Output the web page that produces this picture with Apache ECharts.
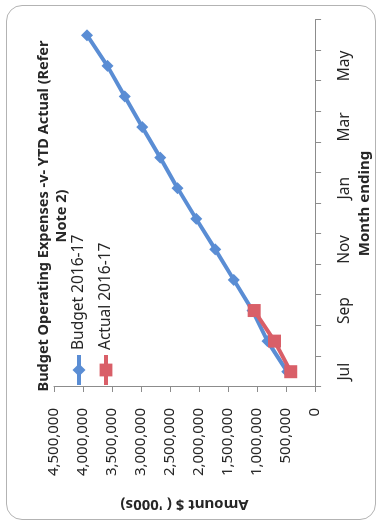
<!DOCTYPE html>
<html>
<head>
<meta charset="utf-8">
<script src="https://cdn.jsdelivr.net/npm/echarts@6/dist/echarts.min.js"></script>
<style>
  html, body { margin: 0; padding: 0; background: #fff; width: 377px; height: 529px; overflow: hidden; }
  #frame {
    position: absolute; left: 6px; top: 5px; width: 370px; height: 515px;
    border: 1px solid #b3b3b3; border-radius: 16px; box-sizing: border-box;
  }
  /* chart is laid out landscape and turned a quarter turn counter-clockwise */
  #chart {
    position: absolute; left: 0; top: 0; width: 529px; height: 377px;
    transform-origin: 0 0; transform: translate(0, 529px) rotate(-90deg);
  }
</style>
</head>
<body>
<div id="frame"></div>
<div id="chart"></div>
<script>
// Month ending categories (financial year 2016-17)
const months = ['Jul', 'Aug', 'Sep', 'Oct', 'Nov', 'Dec', 'Jan', 'Feb', 'Mar', 'Apr', 'May', 'Jun'];

// Cumulative budget operating expenses
const budget = [480000, 820000, 1080000, 1400000, 1720000, 2050000,
                2370000, 2670000, 2980000, 3280000, 3580000, 3930000];

// Year-to-date actual operating expenses
const actual = [420000, 700000, 1050000];

// Value axis ticks
const amountMin = 0;
const amountMax = 4500000;
const amountStep = 500000;

const FONT = 'Noto Sans';
const TEXT = '#262626';
const AXIS = '#8c8c8c';
const BLUE = '#5a8dd4';
const RED = '#d95f68';

function withCommas(v) {
  return String(v).replace(/\B(?=(\d{3})+(?!\d))/g, ',');
}

const chart = echarts.init(document.getElementById('chart'), null, { renderer: 'canvas' });

chart.setOption({
  backgroundColor: 'transparent',
  animation: false,
  title: {
    text: 'Budget Operating Expenses -v- YTD Actual (Refer\nNote 2)',
    left: 313,
    top: 35,
    padding: 0,
    textAlign: 'center',
    textStyle: { fontFamily: FONT, fontSize: 14.5, fontWeight: 'bold', color: TEXT, lineHeight: 18 }
  },
  legend: {
    orient: 'vertical',
    left: 137,
    top: 66,
    itemWidth: 30,
    itemHeight: 16,
    itemGap: 11,
    lineStyle: { width: 4 },
    textStyle: { fontFamily: FONT, fontSize: 15.5, color: TEXT },
    data: ['Budget 2016-17', 'Actual 2016-17']
  },
  grid: { left: 142, right: 20, top: 54, bottom: 54, containLabel: false },
  xAxis: {
    type: 'category',
    data: months,
    boundaryGap: true,
    axisLine: { lineStyle: { color: AXIS, width: 1 } },
    axisTick: { show: true, interval: 0, length: 6, lineStyle: { color: AXIS } },
    axisLabel: { interval: 1, margin: 21, fontFamily: FONT, fontSize: 15.5, color: TEXT },
    splitLine: { show: false },
    name: 'Month ending',
    nameLocation: 'middle',
    nameGap: 37,
    nameTextStyle: { fontFamily: FONT, fontSize: 15, fontWeight: 'bold', color: TEXT }
  },
  yAxis: {
    type: 'value',
    min: amountMin,
    max: amountMax,
    interval: amountStep,
    axisLine: { show: true, lineStyle: { color: AXIS, width: 1 } },
    axisTick: { show: true, length: 5, lineStyle: { color: AXIS } },
    axisLabel: { margin: 21, fontFamily: FONT, fontSize: 15, color: TEXT, formatter: withCommas },
    splitLine: { show: false },
    name: "Amount $ ( '000s)",
    nameLocation: 'middle',
    nameRotate: 90,
    nameGap: 110,
    nameTextStyle: { fontFamily: FONT, fontSize: 15, fontWeight: 'bold', color: TEXT }
  },
  series: [
    {
      name: 'Budget 2016-17',
      type: 'line',
      data: budget,
      symbol: 'diamond',
      symbolSize: 12,
      lineStyle: { color: BLUE, width: 4 },
      itemStyle: { color: BLUE },
      z: 2
    },
    {
      name: 'Actual 2016-17',
      type: 'line',
      data: actual,
      symbol: 'rect',
      symbolSize: 13,
      lineStyle: { color: RED, width: 4 },
      itemStyle: { color: RED },
      z: 3
    }
  ]
});
</script>
</body>
</html>
